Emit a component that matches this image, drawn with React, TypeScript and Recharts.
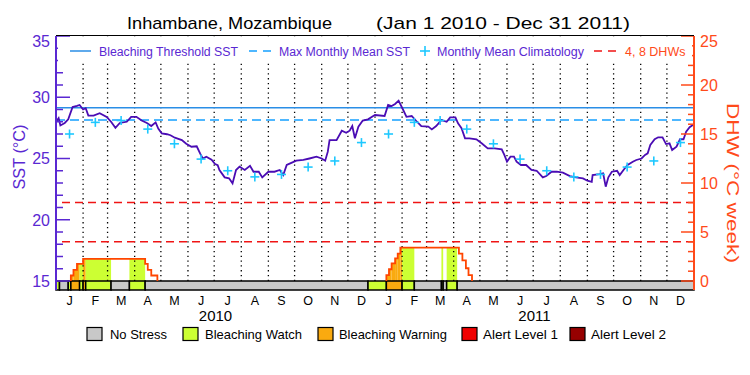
import React from 'react';
import { ComposedChart, Line, Scatter, XAxis, YAxis, ReferenceLine, ReferenceArea } from 'recharts';

// ---------- data ----------
const MONTH_STARTS = [0, 31, 59, 90, 120, 151, 181, 212, 243, 273, 304, 334, 365, 396, 424, 455, 485, 516, 546, 577, 608, 638, 669, 699, 730];
const MONTH_LETTERS = ['J', 'F', 'M', 'A', 'M', 'J', 'J', 'A', 'S', 'O', 'N', 'D'];
const YEAR_LABELS = ['2010', '2011'];

const sstDays = [0, 3, 5, 10, 14, 19, 24, 27, 31, 34, 37, 43, 50, 58, 63, 68, 73, 81, 86, 92, 98, 104, 109, 114, 117, 121, 127, 131, 136, 140, 144, 149, 155, 161, 165, 168, 172, 178, 182, 185, 187, 193, 198, 202, 206, 210, 216, 222, 226, 232, 236, 243, 250, 256, 260, 264, 268, 275, 283, 290, 298, 304, 308, 311, 313, 321, 327, 332, 336, 339, 342, 346, 351, 357, 363, 365, 376, 380, 384, 388, 392, 397, 401, 407, 413, 418, 426, 430, 435, 441, 447, 451, 457, 460, 464, 468, 473, 481, 487, 494, 502, 510, 513, 516, 520, 524, 527, 532, 538, 544, 550, 557, 561, 567, 573, 580, 588, 595, 603, 608, 613, 614, 622, 626, 629, 632, 636, 642, 645, 650, 654, 660, 664, 670, 674, 677, 680, 685, 689, 694, 698, 702, 705, 710, 714, 718, 721, 725, 730];
const sstValues = [28.0, 28.3, 27.7, 27.9, 28.2, 29.2, 29.3, 29.37, 29.0, 29.1, 28.5, 28.5, 28.7, 28.4, 28.0, 27.5, 27.9, 28.0, 28.4, 28.4, 28.1, 27.9, 27.65, 27.95, 27.45, 27.05, 26.98, 26.9, 26.7, 26.6, 26.5, 26.2, 25.96, 26.0, 25.4, 25.0, 25.15, 24.9, 24.55, 24.45, 24.06, 23.46, 23.38, 22.97, 24.06, 24.33, 24.06, 24.4, 23.92, 23.92, 23.46, 23.92, 23.92, 24.06, 23.65, 24.47, 24.6, 24.82, 24.88, 25.0, 25.15, 25.0, 24.82, 25.56, 26.5, 26.5, 27.27, 27.1, 27.27, 27.65, 26.65, 27.6, 28.1, 28.2, 28.47, 28.55, 28.47, 29.37, 29.28, 29.45, 29.72, 29.0, 28.4, 28.47, 28.0, 27.65, 27.6, 27.38, 27.65, 28.14, 28.0, 28.36, 28.36, 27.87, 27.47, 26.65, 26.65, 26.57, 26.24, 25.83, 25.83, 25.75, 25.29, 24.74, 25.15, 25.15, 24.74, 24.47, 24.47, 24.06, 24.0, 23.46, 23.57, 23.92, 23.92, 23.84, 23.57, 23.46, 23.38, 23.19, 23.1, 23.65, 23.73, 23.79, 22.7, 23.46, 23.92, 24.0, 23.65, 24.12, 24.47, 24.74, 24.88, 25.0, 25.29, 25.42, 26.1, 26.57, 26.73, 26.73, 26.18, 26.24, 25.69, 25.96, 26.57, 26.57, 27.19, 27.55, 27.8];

const climatologyMonthly = [27.0, 27.95, 28.1, 27.4, 26.2, 24.95, 24.0, 23.5, 23.7, 24.3, 24.8, 26.3];
const MMM = 28.14;
const BLEACHING_THRESHOLD = 29.14;
const DHW_LEVELS = [4, 8];

const dhw2010Days = [17, 17, 20, 24, 31, 102, 105, 109, 116];
const dhw2010Values = [0, 0.56, 1.14, 1.75, 2.25, 1.75, 1.14, 0.56, 0];
const dhw2011Days = [378, 378, 381, 384, 388, 391, 394, 461, 465, 469, 472, 476];
const dhw2011Values = [0, 0.6, 1.2, 1.8, 2.3, 2.8, 3.4, 2.8, 2.1, 1.3, 0.6, 0];

// stress level: 0 No Stress, 1 Watch, 2 Warning, 3 Alert 1, 4 Alert 2
const stressStartDays = [0, 4, 14, 17, 27, 31, 34, 63, 84, 102, 357, 378, 396, 410, 441, 443, 447, 459];
const stressEndDays = [4, 14, 17, 27, 31, 34, 63, 84, 102, 357, 378, 396, 410, 441, 443, 447, 459, 730];
const stressLevels = [1, 0, 1, 2, 1, 2, 1, 0, 1, 0, 1, 2, 1, 0, 1, 0, 1, 0];
const stressNames = ['No Stress', 'Bleaching Watch', 'Bleaching Warning', 'Alert Level 1', 'Alert Level 2'];

const sstTicks = [15, 16, 17, 18, 19, 20, 21, 22, 23, 24, 25, 26, 27, 28, 29, 30, 31, 32, 33, 34, 35];
const dhwTicks = [0, 1, 2, 3, 4, 5, 6, 7, 8, 9, 10, 11, 12, 13, 14, 15, 16, 17, 18, 19, 20, 21, 22, 23, 24, 25];

// ---------- styles ----------
const STRESS_COLORS = ['#C8C8C8', '#CCFF33', '#FAAA0F', '#F00000', '#960000'];
const PURPLE_AXIS = '#5A28D2';
const SST_LINE = '#4A0CB4';
const THRESH_BLUE = '#2A8EE6';
const MMM_BLUE = '#14A0FF';
const CYAN = '#1EC8FF';
const ORANGE_AXIS = '#FF4A1A';
const DHW_LINE = '#FF4500';
const DHW_RED = '#F01414';
const FONT = '"Liberation Sans", Arial, sans-serif';

const SST_BOTTOM = 15 - 9 / 12.25;
const DHW_BOTTOM = -9 / 9.8;

// ---------- derived tables ----------
const sstData = sstDays.map((d, i) => ({ day: d, sst: sstValues[i] }));
const midMonthDays = MONTH_STARTS.slice(0, 24).map((d, i) => (d + MONTH_STARTS[i + 1]) / 2);
const climData = midMonthDays.map((d, i) => ({ day: d, clim: climatologyMonthly[i % 12] }));
const dhw2010 = dhw2010Days.map((d, i) => ({ day: d, dhw: dhw2010Values[i] }));
const dhw2011 = dhw2011Days.map((d, i) => ({ day: d, dhw: dhw2011Values[i] }));

type Rect = { x1: number; x2: number; v: number; level: number };
const fillRects: Rect[] = [];
[[dhw2010Days, dhw2010Values], [dhw2011Days, dhw2011Values]].forEach(([days, vals]) => {
  for (let i = 0; i < days.length - 1; i++) {
    const a = days[i], b = days[i + 1], v = vals[i];
    if (v <= 0 || b <= a) continue;
    stressStartDays.forEach((s, j) => {
      const e = stressEndDays[j];
      const lv = stressLevels[j];
      if (lv === 0) return;
      const lo = Math.max(a, s), hi = Math.min(b, e);
      if (hi > lo) fillRects.push({ x1: lo, x2: hi, v, level: lv });
    });
  }
});

// ---------- ticks ----------
const SstTick = (props: any) => {
  const { x, y, payload } = props;
  const v = payload.value;
  const major = v % 5 === 0;
  return (
    <g>
      <line x1={x} x2={x + (major ? 14 : 7)} y1={y} y2={y} stroke={PURPLE_AXIS} strokeWidth={1.5} />
      {major && (
        <text x={x - 6} y={v === 35 ? y + 5 : y} dy="0.36em" textAnchor="end" fill={PURPLE_AXIS} fontSize={16} fontFamily={FONT}>
          {v}
        </text>
      )}
    </g>
  );
};

const DhwTick = (props: any) => {
  const { x, y, payload } = props;
  const v = payload.value;
  const major = v % 5 === 0;
  return (
    <g>
      <line x1={x - (major ? 13 : 6)} x2={x} y1={y} y2={y} stroke={ORANGE_AXIS} strokeWidth={1.5} />
      {major && (
        <text x={x + 6} y={v === 25 ? y + 5 : y} dy="0.36em" textAnchor="start" fill={ORANGE_AXIS} fontSize={16} fontFamily={FONT}>
          {v}
        </text>
      )}
    </g>
  );
};

const MonthTick = (props: any) => {
  const { x, y, payload } = props;
  const idx = midMonthDays.indexOf(payload.value);
  return (
    <text x={x} y={y + 15} textAnchor="middle" fill="#000" fontSize={12.5} fontFamily={FONT}>
      {MONTH_LETTERS[(idx < 0 ? 0 : idx) % 12]}
    </text>
  );
};

const PlusShape = (props: any) => {
  const { cx, cy } = props;
  return (
    <g>
      <line x1={cx - 4.5} x2={cx + 4.5} y1={cy} y2={cy} stroke={CYAN} strokeWidth={1.6} />
      <line x1={cx} x2={cx} y1={cy - 4.5} y2={cy + 4.5} stroke={CYAN} strokeWidth={1.6} />
    </g>
  );
};

export default function App() {
  const legendBoxes = [
    { box: 87, text: 110, w: 57 },
    { box: 183, text: 205, w: 97 },
    { box: 318, text: 339, w: 108 },
    { box: 462, text: 483, w: 75 },
    { box: 570, text: 591, w: 75 },
  ];
  return (
    <div style={{ position: 'absolute', left: 0, top: 0, width: 750, height: 375, background: '#fff' }}>
      <ComposedChart width={750} height={375} margin={{ top: 36, right: 0, left: 0, bottom: 55 }}>
        <XAxis
          type="number"
          dataKey="day"
          domain={[0, 730]}
          allowDataOverflow
          ticks={midMonthDays}
          interval={0}
          tick={<MonthTick />}
          tickLine={false}
          axisLine={false}
          tickSize={0}
          tickMargin={0}
          height={30}
        />
        <YAxis
          yAxisId="sst"
          orientation="left"
          type="number"
          domain={[SST_BOTTOM, 35]}
          allowDataOverflow
          ticks={sstTicks}
          interval={0}
          width={56}
          axisLine={{ stroke: PURPLE_AXIS, strokeWidth: 2 }}
          tickLine={false}
          tickSize={0}
          tickMargin={0}
          tick={<SstTick />}
        />
        <YAxis
          yAxisId="dhw"
          orientation="right"
          type="number"
          domain={[DHW_BOTTOM, 25]}
          allowDataOverflow
          ticks={dhwTicks}
          interval={0}
          width={56}
          axisLine={{ stroke: ORANGE_AXIS, strokeWidth: 2 }}
          tickLine={false}
          tickSize={0}
          tickMargin={0}
          tick={<DhwTick />}
        />
        {MONTH_STARTS.slice(1, 24).map((d) => (
          <ReferenceLine
            key={'m' + d}
            yAxisId="sst"
            segment={[{ x: d, y: 15 }, { x: d, y: 35 }]}
            stroke="#000"
            strokeWidth={1.3}
            strokeDasharray="1.3 3.5"
          />
        ))}
        {fillRects.map((r, i) => (
          <ReferenceArea
            key={'f' + i}
            yAxisId="dhw"
            x1={r.x1}
            x2={r.x2}
            y1={0}
            y2={r.v}
            fill={STRESS_COLORS[r.level]}
            fillOpacity={1}
            stroke="none"
          />
        ))}
        {stressStartDays.map((s, i) => (
          <ReferenceArea
            key={'s' + i}
            yAxisId="sst"
            x1={s}
            x2={stressEndDays[i]}
            y1={SST_BOTTOM}
            y2={15}
            fill={STRESS_COLORS[stressLevels[i]]}
            fillOpacity={1}
            stroke="#000"
            strokeWidth={1.5}
          />
        ))}
        {DHW_LEVELS.map((v) => (
          <ReferenceLine key={'d' + v} yAxisId="dhw" y={v} stroke={DHW_RED} strokeWidth={1.5} strokeDasharray="8 5" />
        ))}
        <ReferenceLine yAxisId="sst" y={BLEACHING_THRESHOLD} stroke={THRESH_BLUE} strokeWidth={1.5} />
        <ReferenceLine yAxisId="sst" y={MMM} stroke={MMM_BLUE} strokeWidth={1.5} strokeDasharray="9 5" />
        <Line data={dhw2010} dataKey="dhw" yAxisId="dhw" type="stepAfter" stroke={DHW_LINE} strokeWidth={1.8} dot={false} isAnimationActive={false} />
        <Line data={dhw2011} dataKey="dhw" yAxisId="dhw" type="stepAfter" stroke={DHW_LINE} strokeWidth={1.8} dot={false} isAnimationActive={false} />
        <Line data={sstData} dataKey="sst" yAxisId="sst" type="linear" stroke={SST_LINE} strokeWidth={1.8} dot={false} isAnimationActive={false} />
        <Scatter data={climData} dataKey="clim" yAxisId="sst" shape={<PlusShape />} isAnimationActive={false} />
      </ComposedChart>
      <svg width={750} height={375} style={{ position: 'absolute', left: 0, top: 0, pointerEvents: 'none' }} fontFamily={FONT}>
        <rect x={58} y={37} width={634} height={25} fill="#fff" />
        <line x1={56} x2={694} y1={35.5} y2={35.5} stroke="#000" strokeWidth={1.2} />
        <text x={127} y={29} fontSize={17} fill="#000" textLength={205} lengthAdjust="spacingAndGlyphs">Inhambane, Mozambique</text>
        <text x={376} y={29} fontSize={17} fill="#000" textLength={254} lengthAdjust="spacingAndGlyphs">(Jan 1 2010 - Dec 31 2011)</text>

        <line x1={70} x2={91} y1={51} y2={51} stroke={THRESH_BLUE} strokeWidth={1.5} />
        <text x={99} y={55.5} fontSize={12.5} fill={PURPLE_AXIS} textLength={139} lengthAdjust="spacingAndGlyphs">Bleaching Threshold SST</text>
        <line x1={249} x2={273} y1={51} y2={51} stroke={MMM_BLUE} strokeWidth={1.5} strokeDasharray="8 6" />
        <text x={279} y={55.5} fontSize={12.5} fill={PURPLE_AXIS} textLength={131} lengthAdjust="spacingAndGlyphs">Max Monthly Mean SST</text>
        <line x1={420} x2={430} y1={51} y2={51} stroke={CYAN} strokeWidth={1.6} />
        <line x1={425} x2={425} y1={46} y2={56} stroke={CYAN} strokeWidth={1.6} />
        <text x={437} y={55.5} fontSize={12.5} fill={PURPLE_AXIS} textLength={147} lengthAdjust="spacingAndGlyphs">Monthly Mean Climatology</text>
        <line x1={594} x2={618} y1={51} y2={51} stroke={DHW_RED} strokeWidth={1.5} strokeDasharray="8 6" />
        <text x={625} y={55.5} fontSize={12.5} fill={ORANGE_AXIS}>4, 8 DHWs</text>

        <text transform="translate(25,157) rotate(-90)" textAnchor="middle" fontSize={17} fill={PURPLE_AXIS} textLength={65} lengthAdjust="spacingAndGlyphs">SST (°C)</text>
        <text transform="translate(727,183) rotate(90)" textAnchor="middle" fontSize={17} fill={ORANGE_AXIS} textLength={160} lengthAdjust="spacingAndGlyphs">DHW (°C week)</text>

        {YEAR_LABELS.map((y, i) => (
          <text key={y} x={56 + (i * 365 + 182.5) * (638 / 730)} y={320.5} textAnchor="middle" fontSize={15} fill="#000">{y}</text>
        ))}

        {stressNames.map((n, i) => (
          <g key={n}>
            <rect x={legendBoxes[i].box} y={327.5} width={15} height={13} fill={STRESS_COLORS[i]} stroke="#000" strokeWidth={1.2} />
            <text x={legendBoxes[i].text} y={339} fontSize={13.5} fill="#000" textLength={legendBoxes[i].w} lengthAdjust="spacingAndGlyphs">{n}</text>
          </g>
        ))}
      </svg>
    </div>
  );
}
